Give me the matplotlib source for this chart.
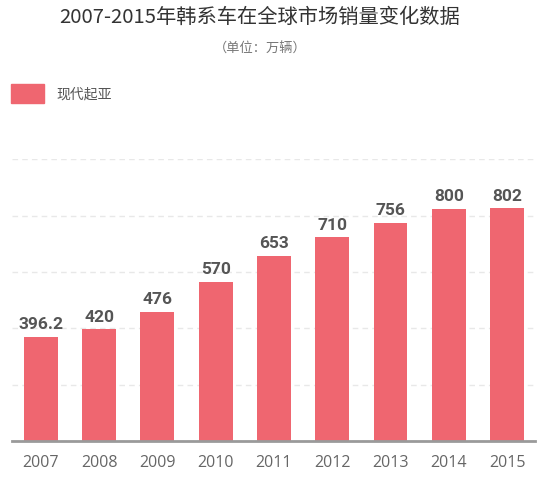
import numpy as np
import matplotlib
matplotlib.use('Agg')
import matplotlib.pyplot as plt
from matplotlib.patches import Rectangle

plt.rcParams['font.family'] = ['Noto Sans CJK SC', 'DejaVu Sans']

years = ['2007', '2008', '2009', '2010', '2011', '2012', '2013', '2014', '2015']
sales = [396.2, 420, 476, 570, 653, 710, 756, 800, 802]
value_labels = ['396.2', '420', '476', '570', '653', '710', '756', '800', '802']
series_name = '现代起亚'

bar_color = '#EF6670'

fig = plt.figure(figsize=(5.5, 4.81), dpi=100)
ax = fig.add_axes([0.0213, 0.081, 0.9514, 0.586])

x = np.arange(len(years))
ax.bar(x, sales, width=0.58, color=bar_color, zorder=2)

ymin, ymax = 68, 957
ax.set_ylim(ymin, ymax)
ax.set_xlim(-0.5, 8.48)
ax.set_yticks(np.linspace(ymin, ymax, 6))
ax.set_yticklabels([])
ax.tick_params(axis='y', length=0)
ax.grid(axis='y', color='#e8e8e8', linestyle=(0, (4, 3)), linewidth=1, zorder=0)

ax.set_xticks(x)
ax.set_xticklabels(years, fontsize=11.5, color='#666666', family=['Open Sans', 'DejaVu Sans'])
ax.tick_params(axis='x', length=0, pad=9)

for side in ['top', 'right', 'left']:
    ax.spines[side].set_visible(False)
ax.spines['bottom'].set_color('#9a9a9a')
ax.spines['bottom'].set_linewidth(2)
ax.spines['bottom'].set_zorder(3)

for xi, v, lab in zip(x, sales, value_labels):
    ax.annotate(lab, (xi, v), xytext=(0, 4), textcoords='offset points',
                ha='center', va='bottom', fontsize=12.5, fontweight='bold',
                color='#555555', family=['Roboto', 'DejaVu Sans'])

# title and subtitle
fig.text(260 / 550, 1 - 17 / 481, '2007-2015年韩系车在全球市场销量变化数据',
         ha='center', va='center', fontsize=14.6, color='#333333')
fig.text(260 / 550, 1 - 49 / 481, '（单位：万辆）',
         ha='center', va='center', fontsize=9.5, color='#777777')

# legend
fig.patches.append(Rectangle((11 / 550, 1 - 104 / 481), 33 / 550, 19 / 481,
                             transform=fig.transFigure, color=bar_color))
fig.text(56 / 550, 1 - 95 / 481, series_name, ha='left', va='center',
         fontsize=10, color='#555555')

fig.savefig('out.png', dpi=100, facecolor='white')
